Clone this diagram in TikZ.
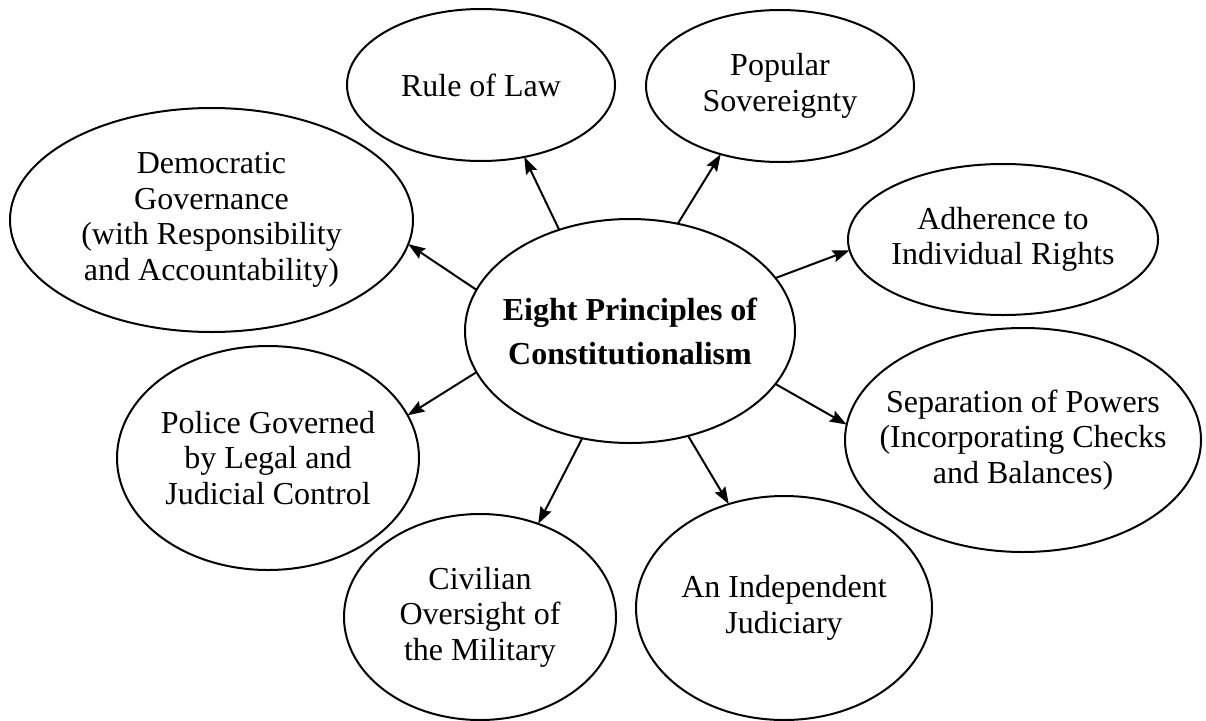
\documentclass[tikz,border=0pt]{standalone}
\usepackage{fontspec}
\setmainfont{Liberation Serif}
\usetikzlibrary{shapes.geometric,arrows.meta}
\tikzset{
  bub/.style={draw, ellipse, line width=2pt, inner sep=0pt, outer sep=0pt},
  txt/.style={align=center, inner sep=0pt, font=\fontsize{32}{35.5}\selectfont},
  ctxt/.style={align=center, inner sep=0pt, font=\fontsize{32}{44}\selectfont\bfseries},
  arr/.style={line width=2pt, -{Stealth[length=17pt,width=12pt,inset=2.5pt]}},
}
\begin{document}
\begin{tikzpicture}[x=1pt,y=-1pt]
\useasboundingbox (0,0) rectangle (1206,720);
% central
\node[bub, minimum width=330, minimum height=224] (c) at (630,331) {};
\node[ctxt] (cT) at (c.center) {Eight Principles of\\Constitutionalism};
% outer bubbles
\node[bub, minimum width=268, minimum height=152] (rule) at (481,85) {};
\node[txt] (ruleT) at (rule.center) {Rule of Law};
\node[bub, minimum width=268, minimum height=152] (pop) at (780,86) {};
\node[txt] (popT) at (pop.center) {Popular\\Sovereignty};
\node[bub, minimum width=403, minimum height=224] (dem) at (211.5,220) {};
\node[txt] (demT) at (dem.center) {Democratic\\Governance\\(with Responsibility\\and Accountability)};
\node[bub, minimum width=310, minimum height=151] (adh) at (1003,239.5) {};
\node[txt] (adhT) at (adh.center) {Adherence to\\Individual Rights};
\node[bub, minimum width=356, minimum height=224] (sep) at (1023,440) {};
\node[txt] (sepT) at (sep.center) {Separation of Powers\\(Incorporating Checks\\and Balances)};
\node[bub, minimum width=302, minimum height=224] (pol) at (268,458) {};
\node[txt] (polT) at (pol.center) {Police Governed\\by Legal and\\Judicial Control};
\node[bub, minimum width=272, minimum height=206] (civ) at (480,617) {};
\node[txt] (civT) at (civ.center) {Civilian\\Oversight of\\the Military};
\node[bub, minimum width=296, minimum height=224] (ind) at (784,608) {};
\node[txt] (indT) at (ind.center) {An Independent\\Judiciary};
% connectors
\draw[arr] (c.125.9) -- (rule.-59.7);
\draw[arr] (c.66.7) -- (pop.-131.9);
\draw[arr] (c.165) -- (dem.-7.25);
\draw[arr] (c.195.4) -- (pol.17.8);
\draw[arr] (c.20.8) -- (adh.184.7);
\draw[arr] (c.-20.3) -- (sep.175.2);
\draw[arr] (c.-114.6) -- (civ.58.8);
\draw[arr] (c.-61.7) -- (ind.118.1);
\end{tikzpicture}
\end{document}
